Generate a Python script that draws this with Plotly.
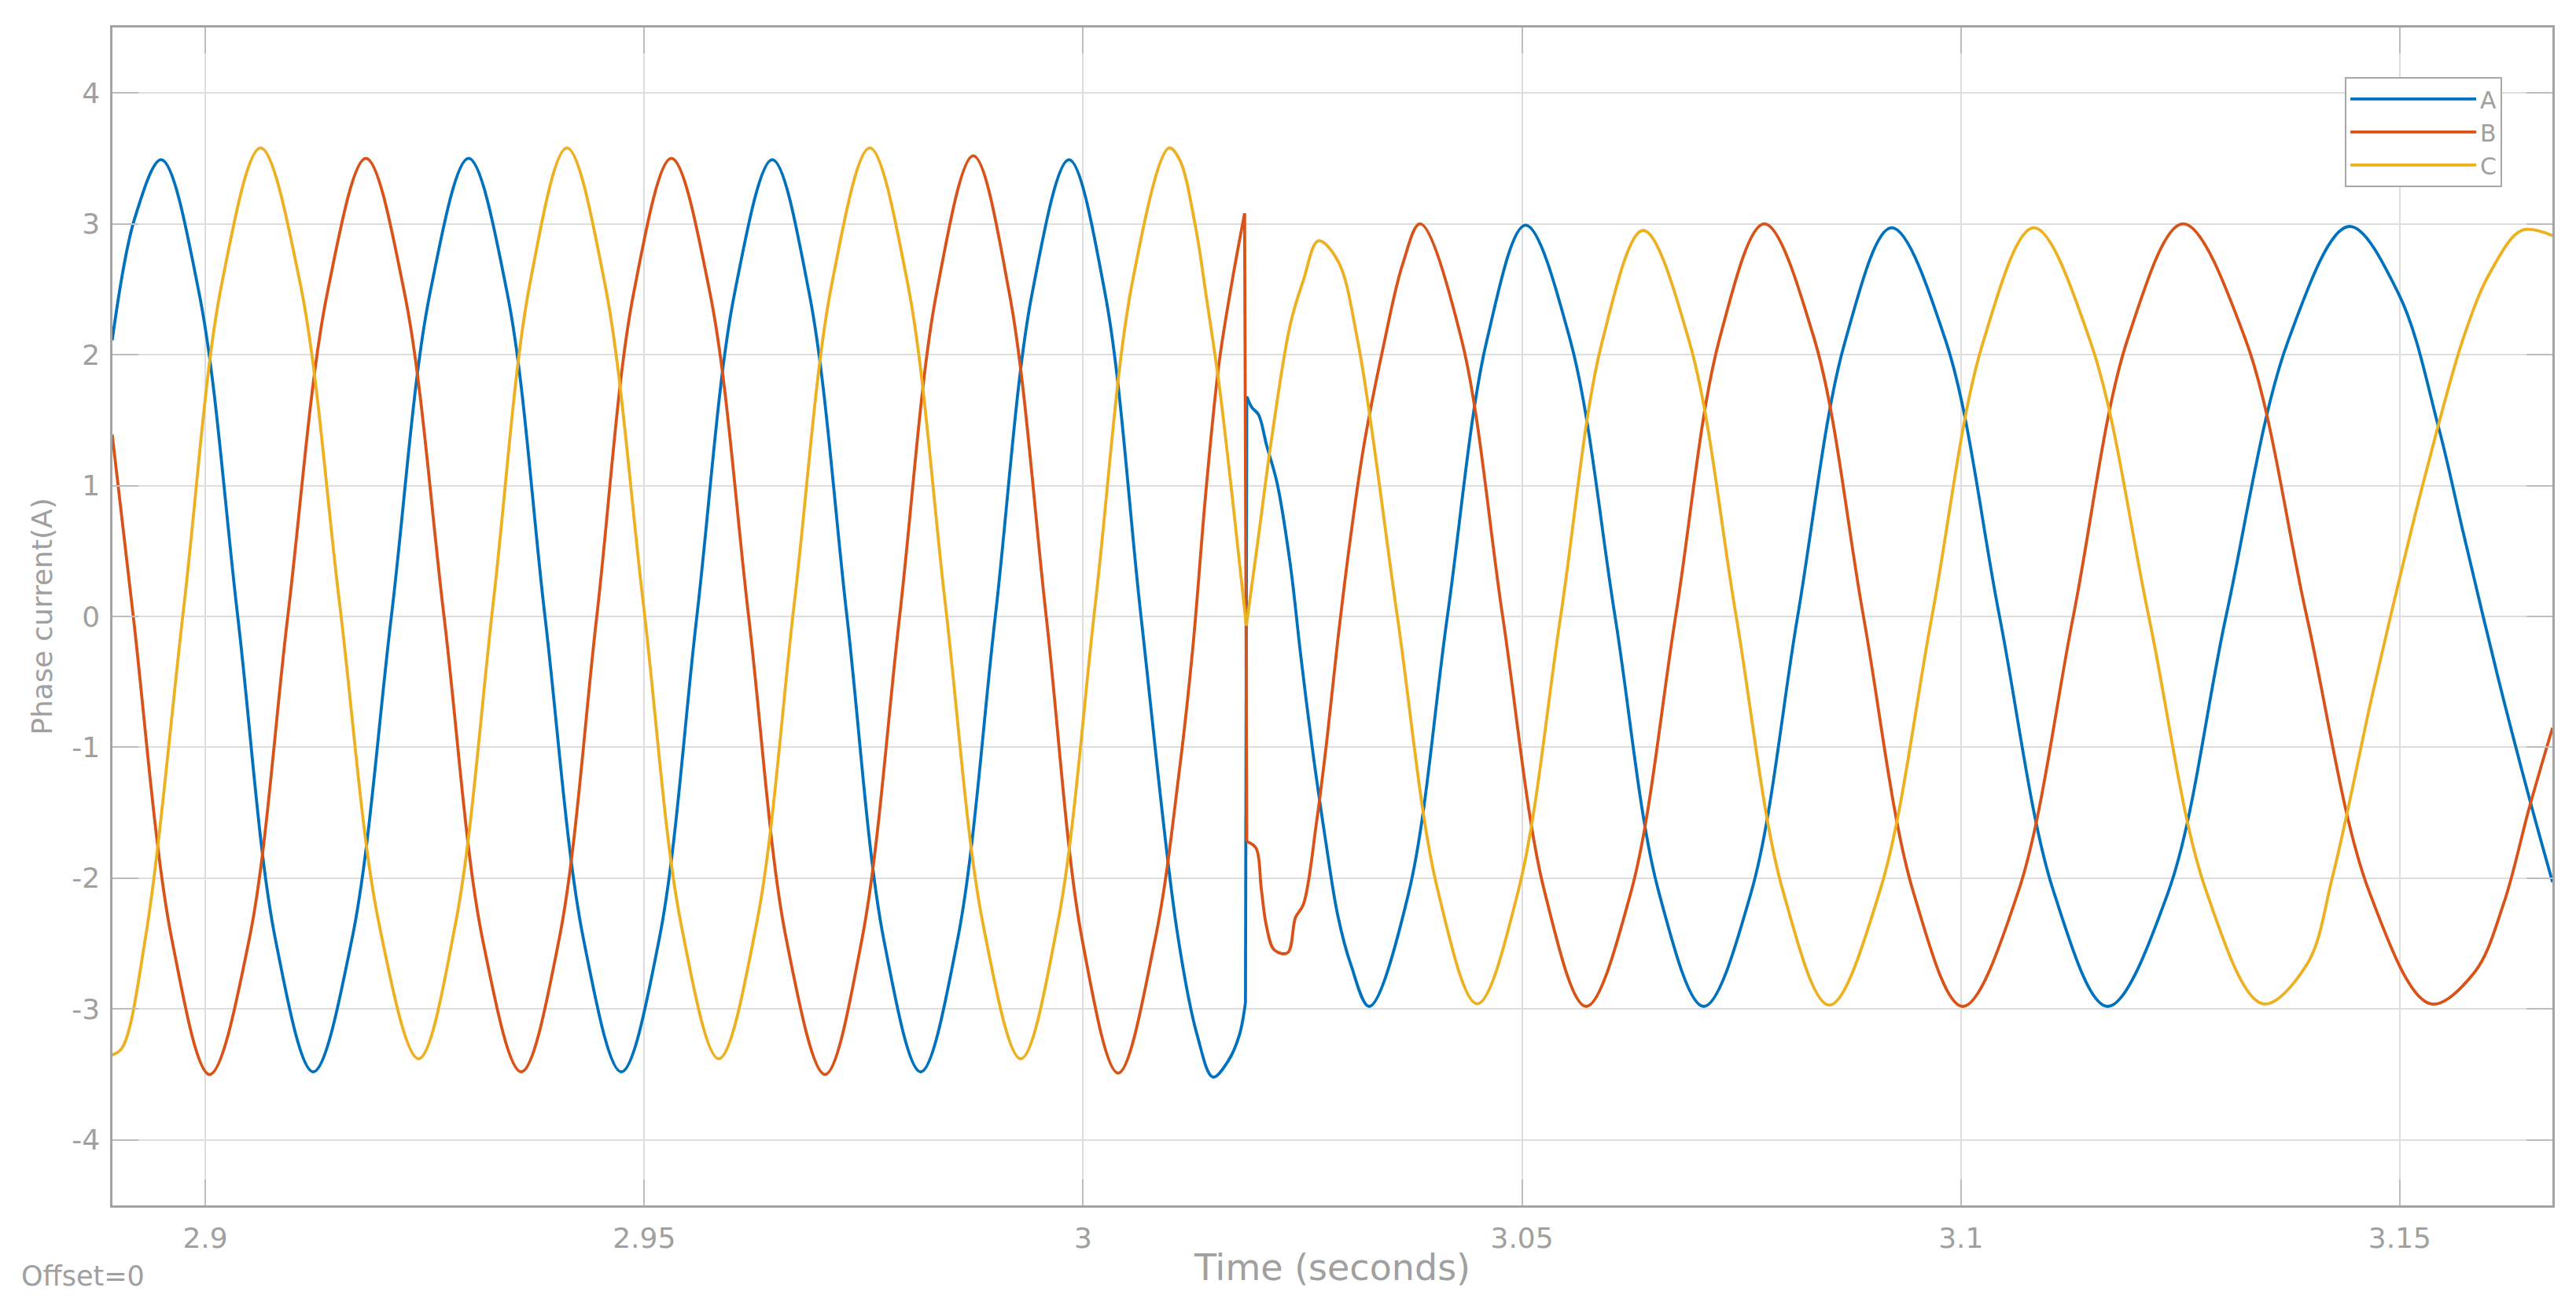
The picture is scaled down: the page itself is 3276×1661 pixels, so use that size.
import plotly.graph_objects as go

# ---------------- data ----------------
# Phase A (pre-fault / post-fault)
t_A_pre = [2.8894, 2.8920, 2.8950, 2.8993, 2.9037, 2.9080, 2.9123, 2.9167, 2.9212, 2.9256,
           2.9300, 2.9344, 2.9387, 2.9431, 2.9474, 2.9517, 2.9560, 2.9603, 2.9646, 2.9688,
           2.9731, 2.9773, 2.9815, 2.9857, 2.9900, 2.9942, 2.9984, 3.0025, 3.0066, 3.0107,
           3.0130, 3.0148, 3.0165, 3.0178, 3.0185]
i_A_pre = [2.11, 3.05, 3.49, 2.47, 0.0, -2.47, -3.48, -2.47, 0.0, 2.47,
           3.50, 2.47, 0.0, -2.47, -3.48, -2.47, 0.0, 2.47, 3.49, 2.47,
           0.0, -2.47, -3.48, -2.47, 0.0, 2.47, 3.49, 2.47, 0.0, -2.40,
           -3.20, -3.52, -3.40, -3.20, -2.95]
t_A_post = [3.01865, 3.0192, 3.0200, 3.0209, 3.0221, 3.0236, 3.0248, 3.0262, 3.0276, 3.0290,
            3.0305, 3.0326, 3.0371, 3.0415, 3.0460, 3.0504, 3.0555, 3.0606, 3.0656, 3.0707,
            3.0761, 3.0814, 3.0868, 3.0921, 3.0983, 3.1044, 3.1106, 3.1167, 3.1236, 3.1302,
            3.1373, 3.1442, 3.1499, 3.1544, 3.1573, 3.1612, 3.1648, 3.1674]
i_A_post = [1.68, 1.60, 1.54, 1.31, 1.02, 0.40, -0.30, -1.05, -1.70, -2.28,
            -2.66, -2.98, -2.11, 0.0, 2.11, 2.99, 2.11, 0.0, -2.11, -2.98,
            -2.11, 0.0, 2.10, 2.97, 2.10, 0.0, -2.11, -2.98, -2.11, 0.0,
            2.11, 2.98, 2.46, 1.45, 0.62, -0.47, -1.40, -2.03]

# Phase B
t_B_pre = [2.8894, 2.8918, 2.8962, 2.9005, 2.9050, 2.9094, 2.9139, 2.9183, 2.9227, 2.9272,
           2.9316, 2.9360, 2.9403, 2.9446, 2.9488, 2.9531, 2.9575, 2.9619, 2.9662, 2.9706,
           2.9748, 2.9791, 2.9833, 2.9875, 2.9916, 2.9958, 2.9999, 3.0040, 3.0082, 3.0110,
           3.0125, 3.0140, 3.0155, 3.0170, 3.0184]
i_B_pre = [1.39, 0.0, -2.47, -3.50, -2.47, 0.0, 2.47, 3.50, 2.47, 0.0,
           -2.47, -3.48, -2.47, 0.0, 2.47, 3.50, 2.47, 0.0, -2.47, -3.50,
           -2.47, 0.0, 2.47, 3.52, 2.47, 0.0, -2.47, -3.49, -2.47, -1.16,
           -0.24, 0.96, 1.94, 2.57, 3.08]
t_B_post = [3.01865, 3.0197, 3.0203, 3.0209, 3.0218, 3.0233, 3.0242, 3.0251, 3.0266, 3.0278,
            3.0290, 3.0305, 3.0320, 3.0342, 3.0364, 3.0384, 3.0431, 3.0478, 3.0526, 3.0573,
            3.0624, 3.0675, 3.0725, 3.0776, 3.0833, 3.0889, 3.0946, 3.1002, 3.1065, 3.1128,
            3.1190, 3.1253, 3.1324, 3.1394, 3.1465, 3.1535, 3.1585, 3.1618, 3.1648, 3.1674]
i_B_post = [-1.72, -1.77, -2.08, -2.37, -2.55, -2.57, -2.30, -2.20, -1.57, -0.93,
            -0.19, 0.62, 1.31, 2.06, 2.69, 3.00, 2.12, 0.0, -2.11, -2.98,
            -2.11, 0.0, 2.12, 3.00, 2.12, 0.0, -2.11, -2.98, -2.11, 0.0,
            2.12, 3.00, 2.12, 0.0, -2.10, -2.96, -2.72, -2.20, -1.45, -0.85]

# Phase C
t_C_pre = [2.8894, 2.8905, 2.8932, 2.8976, 2.9019, 2.9063, 2.9108, 2.9153, 2.9198, 2.9243,
           2.9285, 2.9328, 2.9370, 2.9412, 2.9455, 2.9499, 2.9542, 2.9585, 2.9628, 2.9671,
           2.9714, 2.9757, 2.9800, 2.9843, 2.9886, 2.9929, 2.9971, 3.0014, 3.0056, 3.0098,
           3.0110, 3.0128, 3.0140, 3.0155, 3.0170, 3.0186]
i_C_pre = [-3.35, -3.30, -2.45, 0.10, 2.55, 3.58, 2.55, 0.10, -2.35, -3.38,
           -2.35, 0.10, 2.55, 3.58, 2.55, 0.10, -2.35, -3.38, -2.35, 0.10,
           2.55, 3.58, 2.55, 0.10, -2.35, -3.38, -2.35, 0.10, 2.55, 3.58,
           3.49, 2.98, 2.46, 1.77, 0.91, -0.07]
t_C_post = [3.0186, 3.0200, 3.0215, 3.0236, 3.0251, 3.0268, 3.0290, 3.0313, 3.0358, 3.0404,
            3.0449, 3.0496, 3.0544, 3.0591, 3.0638, 3.0691, 3.0744, 3.0797, 3.0850, 3.0908,
            3.0967, 3.1025, 3.1083, 3.1148, 3.1214, 3.1279, 3.1344, 3.1394, 3.1424, 3.1469,
            3.1499, 3.1529, 3.1573, 3.1603, 3.1639, 3.1674]
i_C_post = [-0.07, 0.62, 1.37, 2.23, 2.57, 2.87, 2.72, 2.10, 0.0, -2.09,
            -2.96, -2.09, 0.0, 2.09, 2.95, 2.09, 0.0, -2.09, -2.97, -2.09,
            0.0, 2.09, 2.97, 2.09, 0.0, -2.09, -2.96, -2.66, -1.97, -0.59,
            0.27, 1.08, 2.14, 2.63, 2.95, 2.91]

phase_names = ["A", "B", "C"]
phase_colors = ["#0072BD", "#D95319", "#EDB120"]

x_tickvals = [2.9, 2.95, 3.0, 3.05, 3.1, 3.15]
x_ticktext = ["2.9", "2.95", "3", "3.05", "3.1", "3.15"]
y_tickvals = [-4, -3, -2, -1, 0, 1, 2, 3, 4]
y_ticktext = ["-4", "-3", "-2", "-1", "0", "1", "2", "3", "4"]

x_range = [2.889427, 3.167384]
y_range = [-4.5, 4.5]

# ---------------- figure ----------------
FONT = "DejaVu Sans, Liberation Sans, Arial, sans-serif"
TXT = "#a0a0a0"
LW = 3.8

series = [
    (t_A_pre, i_A_pre, t_A_post, i_A_post),
    (t_B_pre, i_B_pre, t_B_post, i_B_post),
    (t_C_pre, i_C_pre, t_C_post, i_C_post),
]

fig = go.Figure()
for name, color, (tp, ip, tq, iq) in zip(phase_names, phase_colors, series):
    fig.add_trace(go.Scatter(x=tp, y=ip, mode="lines", name=name, legendgroup=name,
                             line=dict(color=color, width=LW, shape="spline", smoothing=1.0),
                             showlegend=True))
    # the step at the disturbance instant
    fig.add_trace(go.Scatter(x=[tp[-1], tq[0]], y=[ip[-1], iq[0]], mode="lines",
                             legendgroup=name, line=dict(color=color, width=LW),
                             showlegend=False))
    fig.add_trace(go.Scatter(x=tq, y=iq, mode="lines", legendgroup=name,
                             line=dict(color=color, width=LW, shape="spline", smoothing=1.0),
                             showlegend=False))

axis_common = dict(
    showgrid=True, gridcolor="#dedede", gridwidth=2,
    showline=True, linecolor="#a4a4a4", linewidth=2.5, mirror="ticks",
    ticks="inside", ticklen=33, tickwidth=2, tickcolor="#bdbdbd",
    zeroline=False,
    tickfont=dict(family=FONT, size=36, color=TXT),
)

fig.update_layout(
    width=3276, height=1661,
    margin=dict(l=143, r=30, t=35, b=128, pad=0),
    paper_bgcolor="white", plot_bgcolor="white",
    font=dict(family=FONT, color=TXT),
    xaxis=dict(range=x_range, tickmode="array", tickvals=x_tickvals, ticktext=x_ticktext,
               ticklabelstandoff=8,
               title=dict(text="Time (seconds)", font=dict(family=FONT, size=46, color=TXT),
                          standoff=2),
               **axis_common),
    yaxis=dict(range=y_range, tickmode="array", tickvals=y_tickvals, ticktext=y_ticktext,
               ticklabelstandoff=6,
               title=dict(text="Phase current(A)", font=dict(family=FONT, size=36, color=TXT),
                          standoff=14),
               **axis_common),
    legend=dict(x=0.9794, y=0.958, xanchor="right", yanchor="top",
                bgcolor="white", bordercolor="#a8a8a8", borderwidth=2,
                font=dict(family=FONT, size=30, color=TXT),
                itemwidth=160, tracegroupgap=0),
    showlegend=True,
    annotations=[dict(text="Offset=0", xref="paper", yref="paper",
                      x=-0.038, y=-0.060, xanchor="left", yanchor="middle",
                      showarrow=False, font=dict(family=FONT, size=35, color=TXT))],
)

fig.write_html("out.html", config={"displayModeBar": False},
               post_script="document.body.style.margin='0px';")
